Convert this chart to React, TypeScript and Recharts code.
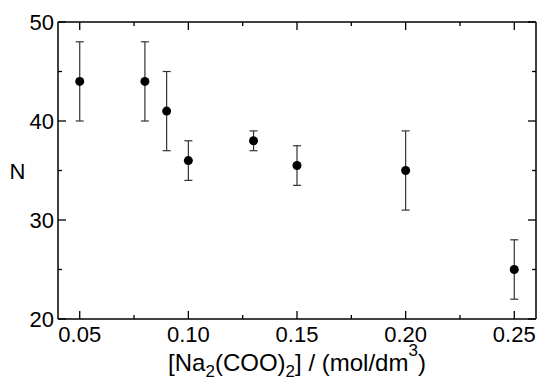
import { ScatterChart, Scatter, XAxis, YAxis, ErrorBar, ReferenceLine } from "recharts";

// [Na2(COO)2] in mol/dm3 vs N (with symmetric error)
const conc = [0.05, 0.08, 0.09, 0.1, 0.13, 0.15, 0.2, 0.25];
const nValues = [44, 44, 41, 36, 38, 35.5, 35, 25];
const nErrors = [4, 4, 4, 2, 1, 2, 4, 3];

const xTicks = [0.05, 0.075, 0.1, 0.125, 0.15, 0.175, 0.2, 0.225, 0.25];
const xMajor = [0.05, 0.1, 0.15, 0.2, 0.25];
const xLabels = ["0.05", "0.10", "0.15", "0.20", "0.25"];
const yTicks = [20, 25, 30, 35, 40, 45, 50];
const yMajor = [20, 30, 40, 50];
const yLabels = ["20", "30", "40", "50"];

const data = conc.map((c, i) => ({ x: c, y: nValues[i], err: nErrors[i] }));

const W = 539;
const H = 379;
const M = { top: 22, right: 3, bottom: 0, left: 0 };
const X_AXIS_H = 60;
const Y_AXIS_W = 58;
const PLOT_W = W - M.left - M.right - Y_AXIS_W;
const PLOT_H = H - M.top - M.bottom - X_AXIS_H;

const FONT = "'Liberation Sans', Arial, sans-serif";
const FS = 22;
const TW = 1.3;

// inward tick marks on both opposite sides (long for labelled values)
function makeTick(side: "x" | "y", majors: number[], labels: string[]) {
  return (props: any) => {
    const x = Number(props.x);
    const y = Number(props.y);
    const i = majors.findIndex((m) => Math.abs(m - props.payload.value) < 1e-9);
    const len = i >= 0 ? 8 : 4;
    if (side === "x") {
      return (
        <g>
          <rect x={x - TW / 2} y={y - len} width={TW} height={len} fill="#000" />
          <rect x={x - TW / 2} y={y - PLOT_H} width={TW} height={len} fill="#000" />
          {i >= 0 && (
            <text x={x} y={y + 23} textAnchor="middle" fontSize={FS} fontFamily={FONT} fill="#000">
              {labels[i]}
            </text>
          )}
        </g>
      );
    }
    return (
      <g>
        <rect x={x} y={y - TW / 2} width={len} height={TW} fill="#000" />
        <rect x={x + PLOT_W - len} y={y - TW / 2} width={len} height={TW} fill="#000" />
        {i >= 0 && (
          <text x={x - 4} y={y + 8} textAnchor="end" fontSize={FS} fontFamily={FONT} fill="#000">
            {labels[i]}
          </text>
        )}
      </g>
    );
  };
}

function XTitle(props: any) {
  const vb = props.viewBox || { x: 58, y: 319, width: PLOT_W };
  return (
    <text x={vb.x + vb.width / 2} y={vb.y + 52} textAnchor="middle" fontSize={24} fontFamily={FONT} fill="#000">
      [Na
      <tspan fontSize={17} dy={6}>2</tspan>
      <tspan dy={-6}>(COO)</tspan>
      <tspan fontSize={17} dy={6}>2</tspan>
      <tspan dy={-6}>] / (mol/dm</tspan>
      <tspan fontSize={17} dy={-15}>3</tspan>
      <tspan dy={15}>)</tspan>
    </text>
  );
}

function YTitle(props: any) {
  const vb = props.viewBox || { x: 0, y: 22, width: 58, height: PLOT_H };
  return (
    <text x={17.5} y={vb.y + vb.height / 2 + 8} textAnchor="middle" fontSize={FS} fontFamily={FONT} fill="#000">
      N
    </text>
  );
}

const axisLine = { stroke: "#000", strokeWidth: 1.5 };

export default function App() {
  return (
    <div style={{ position: "absolute", left: 0, top: 0, width: W, height: H, background: "#fff" }}>
      <ScatterChart width={W} height={H} margin={M}>
        <XAxis
          type="number"
          dataKey="x"
          domain={[0.04, 0.26]}
          ticks={xTicks}
          interval={0}
          height={X_AXIS_H}
          tickSize={0}
          tickMargin={0}
          tickLine={false}
          axisLine={axisLine}
          tick={makeTick("x", xMajor, xLabels)}
          label={<XTitle />}
        />
        <YAxis
          type="number"
          dataKey="y"
          domain={[20, 50]}
          ticks={yTicks}
          interval={0}
          width={Y_AXIS_W}
          tickSize={0}
          tickMargin={0}
          tickLine={false}
          axisLine={axisLine}
          tick={makeTick("y", yMajor, yLabels)}
          label={<YTitle />}
        />
        {/* frame: top and right borders */}
        <ReferenceLine y={50} stroke="#000" strokeWidth={1.5} />
        <ReferenceLine x={0.26} stroke="#000" strokeWidth={1.5} />
        <Scatter
          data={data}
          isAnimationActive={false}
          shape={(p: any) => <circle cx={p.cx} cy={p.cy} r={4.5} fill="#000" />}
        >
          <ErrorBar dataKey="err" direction="y" width={4} stroke="#333" strokeWidth={1.2} isAnimationActive={false} />
        </Scatter>
      </ScatterChart>
    </div>
  );
}
